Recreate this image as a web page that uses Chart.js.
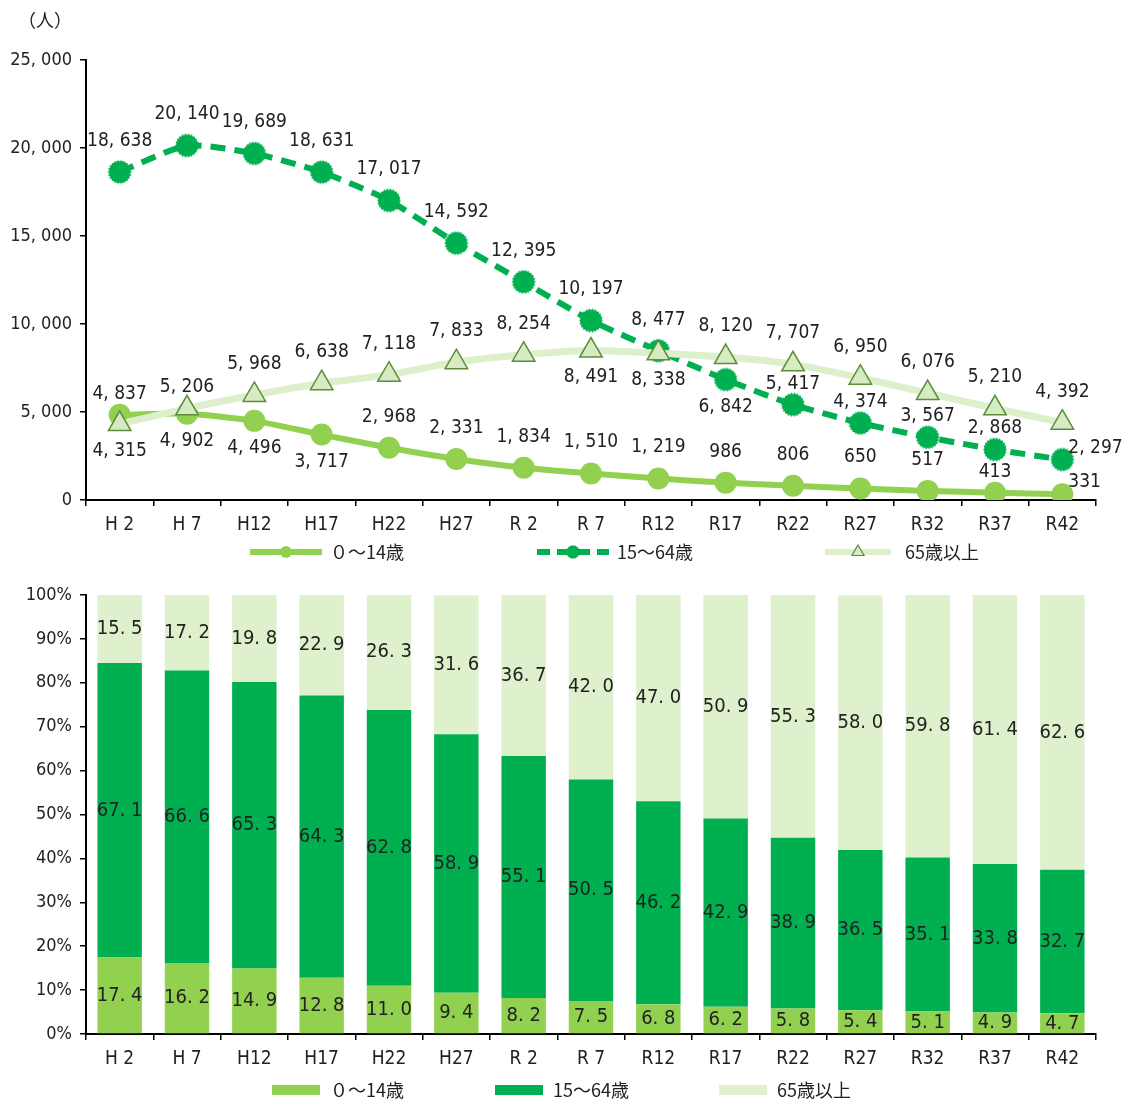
<!DOCTYPE html>
<html lang="ja">
<head>
<meta charset="utf-8">
<script src="https://cdn.jsdelivr.net/npm/chart.js@4.4.1/dist/chart.umd.min.js"></script>
<style>
  body { margin: 0; background: #fff; }
  canvas { display: block; }
</style>
</head>
<body>
<canvas id="popChart" width="1127" height="575"></canvas>
<canvas id="ratioChart" width="1127" height="526"></canvas>
<script>
const years = ['H 2', 'H 7', 'H12', 'H17', 'H22', 'H27', 'R 2', 'R 7', 'R12', 'R17', 'R22', 'R27', 'R32', 'R37', 'R42'];
const seriesNames = ['０～14歳', '15～64歳', '65歳以上'];

// population (人)
const young = [4837, 4902, 4496, 3717, 2968, 2331, 1834, 1510, 1219, 986, 806, 650, 517, 413, 331];
const working = [18638, 20140, 19689, 18631, 17017, 14592, 12395, 10197, 8477, 6842, 5417, 4374, 3567, 2868, 2297];
const elderly = [4315, 5206, 5968, 6638, 7118, 7833, 8254, 8491, 8338, 8120, 7707, 6950, 6076, 5210, 4392];

// share (%)
const youngPct = [17.4, 16.2, 14.9, 12.8, 11.0, 9.4, 8.2, 7.5, 6.8, 6.2, 5.8, 5.4, 5.1, 4.9, 4.7];
const workingPct = [67.1, 66.6, 65.3, 64.3, 62.8, 58.9, 55.1, 50.5, 46.2, 42.9, 38.9, 36.5, 35.1, 33.8, 32.7];
const elderlyPct = [15.5, 17.2, 19.8, 22.9, 26.3, 31.6, 36.7, 42.0, 47.0, 50.9, 55.3, 58.0, 59.8, 61.4, 62.6];

// where each value label sits: a = above, n = just above, b = below, r = right
const youngPos = ['n', 'b', 'b', 'b', 'a', 'a', 'a', 'a', 'a', 'a', 'a', 'a', 'a', 'n', 'r'];
const workingPos = ['a', 'a', 'a', 'a', 'a', 'a', 'a', 'a', 'a', 'b', 'n', 'n', 'n', 'n', 'r'];
const elderlyPos = ['b', 'n', 'a', 'a', 'a', 'a', 'a', 'b', 'b', 'a', 'a', 'a', 'a', 'a', 'a'];

const FONT = '"Liberation Sans Narrow", "DejaVu Sans Condensed", "Noto Sans CJK JP", sans-serif';
const JP_FONT = '"Noto Sans CJK JP", sans-serif';
const C_YOUNG = '#92D050';
const C_WORK = '#00B050';
const C_OLD_LINE = '#DDEFCB';
const C_OLD_BAR = '#DEF0CC';
const C_TRI_FILL = '#D6EBC1';
const C_TRI_EDGE = '#5B8E3B';

Chart.defaults.font.family = FONT;
Chart.defaults.color = '#222';

const fmt = v => v.toLocaleString('en-US').replace(',', ', ');

// serrated dot for the 15-64 series
function makeGear(r) {
    const c = document.createElement('canvas');
    const s = Math.ceil(r * 2 + 2);
    c.width = s; c.height = s;
    const g = c.getContext('2d');
    g.fillStyle = C_WORK;
    g.beginPath();
    const n = 22;
    for (let i = 0; i < n * 2; i++) {
        const a = Math.PI * i / n;
        const rr = i % 2 ? r * 0.88 : r;
        g.lineTo(s / 2 + Math.cos(a) * rr, s / 2 + Math.sin(a) * rr);
    }
    g.closePath();
    g.fill();
    return c;
}
const gearBig = makeGear(12);
const gearSmall = makeGear(7);

const lineLabels = {
    id: 'lineLabels',
    afterDatasetsDraw(chart) {
        const ctx = chart.ctx;
        const positions = [youngPos, workingPos, elderlyPos];
        ctx.save();
        ctx.font = '19px ' + FONT;
        ctx.fillStyle = '#222';
        ctx.textBaseline = 'middle';
        chart.data.datasets.forEach((ds, i) => {
            chart.getDatasetMeta(i).data.forEach((pt, j) => {
                const p = positions[i][j];
                let dx = 0, dy = -31;
                ctx.textAlign = 'center';
                if (p === 'n') dy = -21;
                else if (p === 'b') dy = 27;
                else if (p === 'r') { ctx.textAlign = 'left'; dx = 6; dy = -12; }
                ctx.fillText(fmt(ds.data[j]), pt.x + dx, pt.y + dy);
            });
        });
        ctx.restore();
    }
};

const popExtras = {
    id: 'popExtras',
    afterDraw(chart) {
        const ctx = chart.ctx;
        ctx.save();
        ctx.fillStyle = '#222';
        ctx.textBaseline = 'middle';
        ctx.textAlign = 'center';
        ctx.font = '18px ' + JP_FONT;
        ctx.fillText('（人）', 45, 20);

        // legend
        const y = 552;
        const starts = [250, 537, 825];
        ctx.lineWidth = 6;
        // 0-14
        ctx.strokeStyle = C_YOUNG;
        ctx.beginPath(); ctx.moveTo(starts[0], y); ctx.lineTo(starts[0] + 72, y); ctx.stroke();
        ctx.fillStyle = C_YOUNG;
        ctx.beginPath(); ctx.arc(starts[0] + 36, y, 6, 0, Math.PI * 2); ctx.fill();
        // 15-64
        ctx.strokeStyle = C_WORK;
        ctx.setLineDash([13, 7]);
        ctx.beginPath(); ctx.moveTo(starts[1], y); ctx.lineTo(starts[1] + 72, y); ctx.stroke();
        ctx.setLineDash([]);
        ctx.drawImage(gearSmall, starts[1] + 36 - gearSmall.width / 2, y - gearSmall.height / 2);
        // 65+
        ctx.strokeStyle = C_OLD_LINE;
        ctx.beginPath(); ctx.moveTo(starts[2], y); ctx.lineTo(starts[2] + 66, y); ctx.stroke();
        const tx = starts[2] + 33, tr = 7;
        ctx.fillStyle = C_TRI_FILL;
        ctx.strokeStyle = C_TRI_EDGE;
        ctx.lineWidth = 1.2;
        ctx.beginPath();
        ctx.moveTo(tx, y - tr);
        ctx.lineTo(tx + tr * 0.87, y + tr * 0.5);
        ctx.lineTo(tx - tr * 0.87, y + tr * 0.5);
        ctx.closePath(); ctx.fill(); ctx.stroke();

        ctx.fillStyle = '#222';
        ctx.textAlign = 'left';
        ctx.font = '18px ' + JP_FONT;
        seriesNames.forEach((name, i) => ctx.fillText(name, starts[i] + 80, y));
        ctx.restore();
    }
};

const barLabels = {
    id: 'barLabels',
    afterDatasetsDraw(chart) {
        const ctx = chart.ctx;
        ctx.save();
        ctx.font = '20px ' + FONT;
        ctx.fillStyle = '#222';
        ctx.textAlign = 'center';
        ctx.textBaseline = 'middle';
        chart.data.datasets.forEach((ds, i) => {
            chart.getDatasetMeta(i).data.forEach((bar, j) => {
                const txt = ds.data[j].toFixed(1).replace('.', '. ');
                ctx.fillText(txt, bar.x, (bar.y + bar.base) / 2);
            });
        });
        ctx.restore();
    }
};

const ratioLegend = {
    id: 'ratioLegend',
    afterDraw(chart) {
        const ctx = chart.ctx;
        const y = 515;
        const starts = [272, 495, 719];
        const colors = [C_YOUNG, C_WORK, C_OLD_BAR];
        ctx.save();
        ctx.font = '18px ' + JP_FONT;
        ctx.textBaseline = 'middle';
        ctx.textAlign = 'left';
        seriesNames.forEach((name, i) => {
            ctx.fillStyle = colors[i];
            ctx.fillRect(starts[i], y - 5, 48, 10);
            ctx.fillStyle = '#222';
            ctx.fillText(name, starts[i] + 58, y);
        });
        ctx.restore();
    }
};

const axisX = {
    offset: true,
    grid: { offset: true, drawOnChartArea: false, drawTicks: true, tickLength: 6, color: '#000', lineWidth: 1.5 },
    border: { color: '#000', width: 2 },
    ticks: { font: { size: 19 }, color: '#222', padding: 8, maxRotation: 0, autoSkip: false },
    afterFit(s) { s.height = 42; }
};

new Chart(document.getElementById('popChart'), {
    type: 'line',
    data: {
        labels: years,
        datasets: [
            {
                label: seriesNames[0],
                data: young,
                borderColor: C_YOUNG,
                backgroundColor: C_YOUNG,
                borderWidth: 6,
                tension: 0.2,
                pointStyle: 'circle',
                pointRadius: 11,
                pointBorderWidth: 0,
                order: 2
            },
            {
                label: seriesNames[1],
                data: working,
                borderColor: C_WORK,
                backgroundColor: C_WORK,
                borderWidth: 6,
                borderDash: [15, 9],
                tension: 0.2,
                pointStyle: gearBig,
                pointRadius: 12,
                order: 1
            },
            {
                label: seriesNames[2],
                data: elderly,
                borderColor: C_OLD_LINE,
                backgroundColor: C_TRI_FILL,
                pointBorderColor: C_TRI_EDGE,
                borderWidth: 7,
                tension: 0.2,
                pointStyle: 'triangle',
                pointRadius: 13,
                pointBorderWidth: 1.5,
                order: 0
            }
        ]
    },
    options: {
        responsive: false,
        animation: false,
        layout: { padding: { top: 60, right: 31, bottom: 33, left: 0 } },
        plugins: { legend: { display: false }, tooltip: { enabled: false } },
        scales: {
            x: axisX,
            y: {
                min: 0,
                max: 25000,
                ticks: { stepSize: 5000, callback: v => fmt(v), font: { size: 18 }, color: '#222', padding: 8 },
                grid: { drawOnChartArea: false, tickLength: 6, color: '#000', lineWidth: 1.5 },
                border: { color: '#000', width: 2 },
                afterFit(s) { s.width = 86; }
            }
        }
    },
    plugins: [lineLabels, popExtras]
});

new Chart(document.getElementById('ratioChart'), {
    type: 'bar',
    data: {
        labels: years,
        datasets: [
            { label: seriesNames[0], data: youngPct, backgroundColor: C_YOUNG },
            { label: seriesNames[1], data: workingPct, backgroundColor: C_WORK },
            { label: seriesNames[2], data: elderlyPct, backgroundColor: C_OLD_BAR }
        ]
    },
    options: {
        responsive: false,
        animation: false,
        barPercentage: 0.66,
        categoryPercentage: 1,
        layout: { padding: { top: 20, right: 31, bottom: 25, left: 0 } },
        plugins: { legend: { display: false }, tooltip: { enabled: false } },
        scales: {
            x: Object.assign({}, axisX, { stacked: true }),
            y: {
                stacked: true,
                min: 0,
                max: 100,
                ticks: { stepSize: 10, callback: v => v + '%', font: { size: 18 }, color: '#222', padding: 8 },
                grid: { drawOnChartArea: false, tickLength: 6, color: '#000', lineWidth: 1.5 },
                border: { color: '#000', width: 2 },
                afterFit(s) { s.width = 86; }
            }
        }
    },
    plugins: [barLabels, ratioLegend]
});
</script>
</body>
</html>
